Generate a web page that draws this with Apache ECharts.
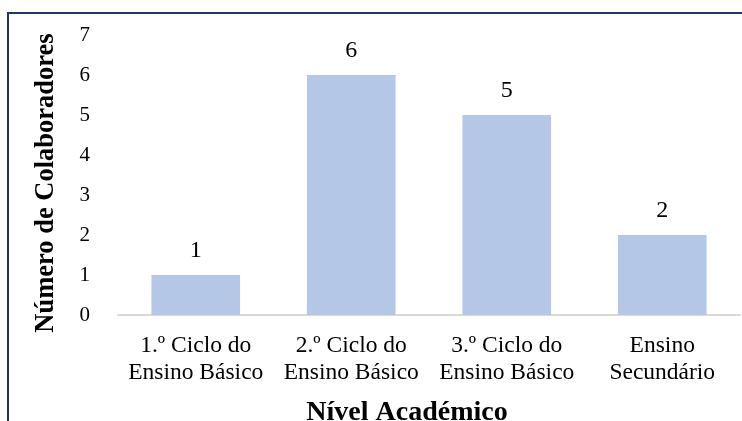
<!DOCTYPE html>
<html><head><meta charset="utf-8">
<script src="https://cdn.jsdelivr.net/npm/echarts@6/dist/echarts.min.js"></script>
<style>html,body{margin:0;padding:0;background:#fff}#c{width:742px;height:421px}</style>
</head><body><div id="c"></div>
<script>
const categories = ['1.º Ciclo do\nEnsino Básico', '2.º Ciclo do\nEnsino Básico', '3.º Ciclo do\nEnsino Básico', 'Ensino\nSecundário'];
const values = [1, 6, 5, 2];
const yTicks = [0, 1, 2, 3, 4, 5, 6, 7];
const xTitle = 'Nível Académico';
const yTitle = 'Número de Colaboradores';

const font = '"Liberation Serif", "Times New Roman", serif';
const chart = echarts.init(document.getElementById('c'), null, {renderer: 'canvas'});
chart.setOption({
  animation: false,
  backgroundColor: '#fff',
  textStyle: {fontFamily: font},
  graphic: [{
    type: 'rect', z: 100,
    shape: {x: 8, y: 13, width: 800, height: 500},
    style: {fill: 'none', stroke: '#1F3864', lineWidth: 2}
  }],
  grid: {left: 118, right: 2, top: 35, bottom: 106, containLabel: false, outerBoundsMode: 'none'},
  xAxis: {
    type: 'category', data: categories,
    name: xTitle, nameLocation: 'middle', nameGap: 84,
    nameTextStyle: {fontFamily: font, fontSize: 28, fontWeight: 'bold', color: '#000', padding: [0, 44, 0, 0]},
    axisLine: {lineStyle: {color: '#d9d9d9', width: 2}},
    axisTick: {show: false},
    axisLabel: {fontFamily: font, fontSize: 23.5, color: '#000', lineHeight: 27, margin: 17, interval: 0}
  },
  yAxis: {
    type: 'value', min: yTicks[0], max: yTicks[yTicks.length - 1], interval: 1,
    name: yTitle, nameLocation: 'middle', nameGap: 58, nameRotate: 90,
    nameTextStyle: {fontFamily: font, fontSize: 26.5, fontWeight: 'bold', color: '#000', padding: [0, 16, 0, 0]},
    axisLine: {show: false}, axisTick: {show: false}, splitLine: {show: false},
    axisLabel: {fontFamily: font, fontSize: 21, color: '#000', margin: 28}
  },
  series: [{
    type: 'bar', data: values, barWidth: '57%',
    itemStyle: {color: '#b4c7e7'},
    label: {show: true, position: 'top', distance: 12, fontFamily: font, fontSize: 24, color: '#000'}
  }]
});
</script></body></html>
